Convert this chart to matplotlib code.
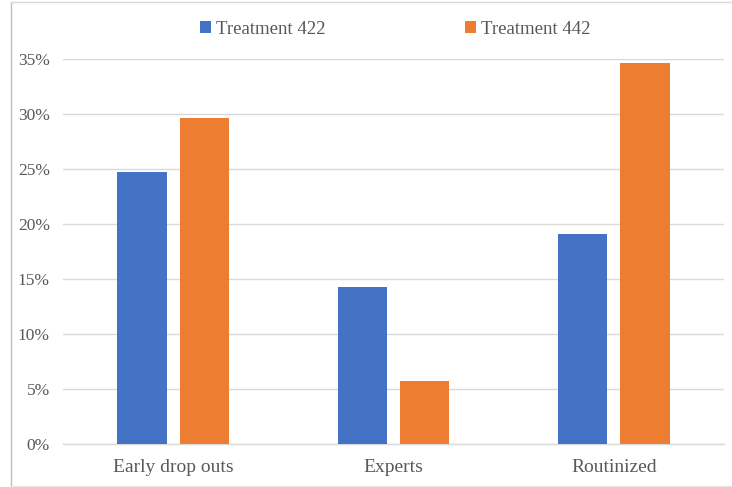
import matplotlib
matplotlib.use("Agg")
import matplotlib.pyplot as plt
from matplotlib.lines import Line2D
import numpy as np

categories = ["Early drop outs", "Experts", "Routinized"]
series_names = ["Treatment 422", "Treatment 442"]
treatment_422 = [0.2475, 0.143, 0.191]
treatment_442 = [0.296, 0.0575, 0.346]
yticks = [0, 0.05, 0.10, 0.15, 0.20, 0.25, 0.30, 0.35]
ytick_labels = ["0%", "5%", "10%", "15%", "20%", "25%", "30%", "35%"]

colors = ["#4472C4", "#ED7D31"]
text_color = "#595959"
grid_color = "#D9D9D9"

plt.rcParams['font.family'] = ['Liberation Serif', 'DejaVu Serif']

fig = plt.figure(figsize=(7.32, 4.87), dpi=100)
W, H = 732, 487
ax = fig.add_axes([63 / W, (H - 444) / H, (724 - 63) / W, (444 - 59) / H])

x = np.arange(len(categories))
w = 0.225
off = 0.1415
ax.bar(x - off, treatment_422, w, color=colors[0], label=series_names[0], zorder=3)
ax.bar(x + off, treatment_442, w, color=colors[1], label=series_names[1], zorder=3)

ax.set_xlim(-0.5, 2.5)
ax.set_ylim(0, 0.35)
ax.set_yticks(yticks)
ax.set_yticklabels(ytick_labels)
ax.set_xticks(x)
ax.set_xticklabels(categories)
ax.yaxis.grid(True, color=grid_color, linewidth=1.0, zorder=0)
ax.set_axisbelow(True)
for s in ["left", "right", "top"]:
    ax.spines[s].set_visible(False)
ax.spines["bottom"].set_color(grid_color)
ax.spines["bottom"].set_linewidth(1.0)
ax.tick_params(axis="y", length=0, pad=9.5, labelsize=12.5, labelcolor=text_color)
ax.tick_params(axis="x", length=0, pad=11, labelsize=14, labelcolor=text_color)

leg = fig.legend(loc="center", bbox_to_anchor=(395.5 / W, 1 - 29 / H), ncol=2,
                 frameon=False, fontsize=13.5, handlelength=0.55, handleheight=0.55,
                 handletextpad=0.3, columnspacing=7.45)
for t in leg.get_texts():
    t.set_color(text_color)

# outer frame (left, top, bottom only)
xl, yt, yb = 10.5 / W, 1 - 1.5 / H, 1 - 485.5 / H
fig.lines.append(Line2D([xl, xl], [yb, yt], transform=fig.transFigure,
                        color="#BFBFBF", linewidth=1.0))
fig.lines.append(Line2D([xl, 1], [yt, yt], transform=fig.transFigure,
                        color="#D9D9D9", linewidth=1.0))
fig.lines.append(Line2D([xl, 1], [yb, yb], transform=fig.transFigure,
                        color="#E8E8E8", linewidth=1.0))

fig.savefig("out.png", dpi=100)
